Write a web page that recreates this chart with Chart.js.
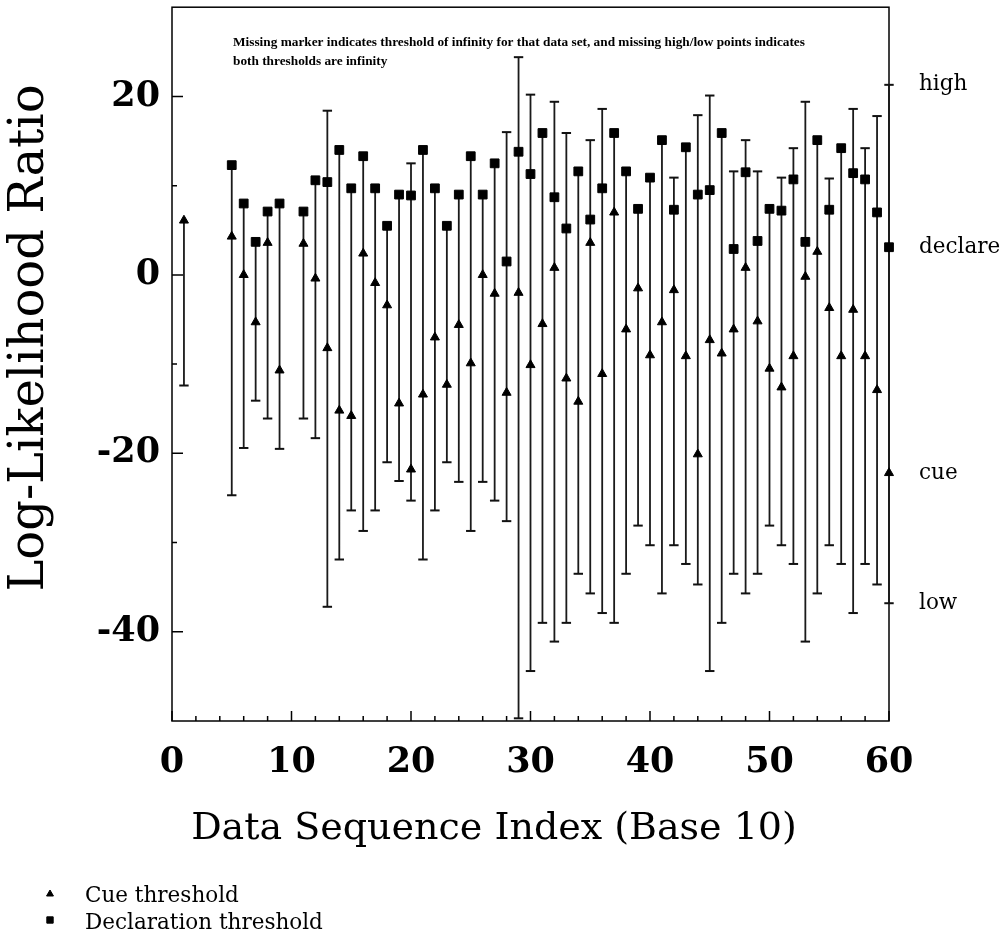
<!DOCTYPE html>
<html>
<head>
<meta charset="utf-8">
<script src="https://cdn.jsdelivr.net/npm/chart.js@4.4.0/dist/chart.umd.min.js"></script>
<style>
  html, body { margin: 0; padding: 0; background: #fff; }
</style>
</head>
<body>
<canvas id="chart" width="1002" height="944"></canvas>
<script>
// data sequences shown (2, 3, 4 and 10 have no thresholds at all)
const seqIndex = [1, 5, 6, 7, 8, 9, 11, 12, 13, 14, 15, 16, 17, 18, 19, 20,
  21, 22, 23, 24, 25, 26, 27, 28, 29, 30, 31, 32, 33, 34, 35, 36, 37, 38, 39, 40,
  41, 42, 43, 44, 45, 46, 47, 48, 49, 50, 51, 52, 53, 54, 55, 56, 57, 58, 59];

const cue = [6.1, 4.3, 0.0, -5.3, 3.6, -10.7, 3.5, -0.4, -8.2, -15.2, -15.8, 2.4, -0.9, -3.4, -14.4, -21.8,
  -13.4, -7.0, -12.3, -5.6, -9.9, 0.0, -2.1, -13.2, -2.0, -10.1, -5.5, 0.8, -11.6, -14.2, 3.6, -11.1, 7.0, -6.1, -1.5, -9.0,
  -5.3, -1.7, -9.1, -20.1, -7.3, -8.8, -6.1, 0.8, -5.2, -10.5, -12.6, -9.1, -0.2, 2.6, -3.7, -9.1, -3.9, -9.1, -12.9];

const declare = [null, 12.3, 8.0, 3.7, 7.1, 8.0, 7.1, 10.6, 10.4, 14.0, 9.7, 13.3, 9.7, 5.5, 9.0, 8.9,
  14.0, 9.7, 5.5, 9.0, 13.3, 9.0, 12.5, 1.5, 13.8, 11.3, 15.9, 8.7, 5.2, 11.6, 6.2, 9.7, 15.9, 11.6, 7.4, 10.9,
  15.1, 7.3, 14.3, 9.0, 9.5, 15.9, 2.9, 11.5, 3.8, 7.4, 7.2, 10.7, 3.7, 15.1, 7.3, 14.2, 11.4, 10.7, 7.0];

const high = [null, null, null, null, null, null, null, null, 18.4, null, null, null, null, null, null, 12.5,
  null, null, null, null, null, null, null, 16.0, 24.4, 20.2, null, 19.4, 15.9, null, 15.1, 18.6, null, null, null, null,
  null, 10.9, null, 17.9, 20.1, null, 11.6, 15.1, 11.6, null, 10.9, 14.2, 19.4, null, 10.8, null, 18.6, 14.2, 17.8];

const low = [-12.4, -24.7, -19.4, -14.1, -16.1, -19.5, -16.1, -18.3, -37.2, -31.9, -26.4, -28.7, -26.4, -21.0, -23.1, -25.3,
  -31.9, -26.4, -21.0, -23.2, -28.7, -23.2, -25.3, -27.6, -49.7, -44.4, -39.0, -41.1, -39.0, -33.5, -35.7, -37.9, -39.0, -33.5, -28.1, -30.3,
  -35.7, -30.3, -32.4, -34.7, -44.4, -39.0, -33.5, -35.7, -33.5, -28.1, -30.3, -32.4, -41.1, -35.7, -30.3, -32.4, -37.9, -32.4, -34.7];

// explanatory key drawn on the right frame
const keyIndex = 60;
const keyLabels = ['high', 'declare', 'cue', 'low'];
const keyValues = [21.3, 3.1, -22.2, -36.8];

const yTickValues = [-40, -20, 0, 20];
const xTickStep = 10;

const SERIF = '"DejaVu Serif", serif';

function pts(xs, ys) {
  const out = [];
  xs.forEach((x, i) => { if (ys[i] !== null) out.push({ x: x, y: ys[i] }); });
  return out;
}

const allX = seqIndex.concat([keyIndex]);
const allHigh = high.concat([keyValues[0]]);
const allDecl = declare.concat([keyValues[1]]);
const allCue = cue.concat([keyValues[2]]);
const allLow = low.concat([keyValues[3]]);

// vertical stems: from low to the top-most value present
const stems = [];
allX.forEach((x, i) => {
  const tops = [allHigh[i], allDecl[i], allCue[i]].filter(v => v !== null);
  stems.push({ x: x, y: allLow[i] }, { x: x, y: Math.max(...tops) }, { x: x, y: null });
});

function noPad(s) {
  s.paddingTop = 0;
  s.paddingBottom = 0;
  s.paddingLeft = 0;
  s.paddingRight = 0;
}

const framePlugin = {
  id: 'frame',
  beforeDatasetsDraw(chart) {
    const { ctx, chartArea: a, scales: { x, y } } = chart;
    ctx.save();
    ctx.strokeStyle = '#000';
    ctx.lineWidth = 1.5;
    ctx.strokeRect(a.left, a.top, a.right - a.left, a.bottom - a.top);
    ctx.beginPath();
    for (let v = 0; v <= 60; v += 2) {
      const px = x.getPixelForValue(v);
      const len = v % 10 === 0 ? 10 : 5;
      ctx.moveTo(px, a.bottom);
      ctx.lineTo(px, a.bottom - len);
    }
    for (let v = -40; v <= 20; v += 10) {
      const py = y.getPixelForValue(v);
      const len = v % 20 === 0 ? 11 : 5;
      ctx.moveTo(a.left, py);
      ctx.lineTo(a.left + len, py);
    }
    ctx.stroke();
    ctx.restore();
  },
  afterDraw(chart) {
    const ctx = chart.ctx;
    ctx.save();
    ctx.fillStyle = '#000';
    // note at the top of the plot
    const line1 = 'Missing marker indicates threshold of infinity for that data set, and missing high/low points indicates';
    const line2 = 'both thresholds are infinity';
    ctx.font = 'bold 11px "Liberation Serif", serif';
    const size = 11 * 572 / ctx.measureText(line1).width;
    ctx.font = 'bold ' + size.toFixed(2) + 'px "Liberation Serif", serif';
    ctx.textBaseline = 'middle';
    ctx.fillText(line1, 233, 43);
    ctx.fillText(line2, 233, 62);

    // axis titles
    ctx.textAlign = 'center';
    ctx.font = '38px ' + SERIF;
    ctx.fillText('Data Sequence Index (Base 10)', 494, 829);
    ctx.save();
    ctx.translate(31, 338);
    ctx.rotate(-Math.PI / 2);
    ctx.font = '48px ' + SERIF;
    ctx.fillText('Log-Likelihood Ratio', 0, 0);
    ctx.restore();

    // legend below the chart
    ctx.textAlign = 'left';
    const drawPoint = Chart.helpers.drawPoint;
    drawPoint(ctx, { pointStyle: 'triangle', radius: 4, rotation: 0, borderWidth: 1 }, 50, 894);
    drawPoint(ctx, { pointStyle: 'rect', radius: 4.5, rotation: 0, borderWidth: 1 }, 50, 920);
    ctx.font = '21.5px ' + SERIF;
    ctx.textBaseline = 'alphabetic';
    ctx.fillText('Cue threshold', 85, 902);
    ctx.fillText('Declaration threshold', 85, 929);
    ctx.restore();
  }
};

new Chart(document.getElementById('chart'), {
  type: 'scatter',
  data: {
    datasets: [
      {
        label: 'Cue threshold',
        data: pts(allX, allCue),
        pointStyle: 'triangle',
        pointRadius: 5.2,
        backgroundColor: '#000',
        borderColor: '#000',
        borderWidth: 1,
        clip: false
      },
      {
        label: 'Declaration threshold',
        data: pts(allX, allDecl),
        pointStyle: 'rect',
        pointRadius: 6.2,
        backgroundColor: '#000',
        borderColor: '#000',
        borderWidth: 1,
        clip: false
      },
      {
        label: 'high',
        data: pts(allX, allHigh),
        pointStyle: 'line',
        pointRadius: 4.7,
        borderColor: '#111',
        borderWidth: 2,
        clip: false
      },
      {
        label: 'low',
        data: pts(allX, allLow),
        pointStyle: 'line',
        pointRadius: 4.7,
        borderColor: '#111',
        borderWidth: 2,
        clip: false
      },
      {
        label: 'range',
        data: stems,
        showLine: true,
        spanGaps: false,
        pointRadius: 0,
        borderColor: '#1a1a1a',
        borderWidth: 1.8,
        clip: false
      }
    ]
  },
  options: {
    responsive: false,
    animation: false,
    devicePixelRatio: 1,
    layout: { padding: { top: 7, right: 0, bottom: 0, left: 0 } },
    plugins: {
      legend: { display: false },
      tooltip: { enabled: false }
    },
    scales: {
      x: {
        type: 'linear',
        min: 0,
        max: 60,
        ticks: {
          stepSize: xTickStep,
          color: '#000',
          padding: 21,
          maxRotation: 0,
          font: { family: SERIF, weight: 'bold', size: 35 }
        },
        grid: { display: false, drawTicks: false },
        border: { display: false },
        afterFit: (s) => { s.height = 223; noPad(s); }
      },
      y: {
        type: 'linear',
        min: -50,
        max: 30,
        afterBuildTicks: (axis) => { axis.ticks = yTickValues.map(v => ({ value: v })); },
        ticks: {
          color: '#000',
          padding: 12,
          font: { family: SERIF, weight: 'bold', size: 35 }
        },
        grid: { display: false, drawTicks: false },
        border: { display: false },
        afterFit: (s) => { s.width = 172; noPad(s); }
      },
      y2: {
        type: 'linear',
        position: 'right',
        min: -50,
        max: 30,
        afterBuildTicks: (axis) => { axis.ticks = keyValues.map(v => ({ value: v })); },
        ticks: {
          color: '#000',
          padding: 30,
          font: { family: SERIF, size: 21.5 },
          callback: (v) => keyLabels[keyValues.indexOf(v)]
        },
        grid: { display: false, drawTicks: false },
        border: { display: false },
        afterFit: (s) => { s.width = 113; noPad(s); }
      }
    }
  },
  plugins: [framePlugin]
});
</script>
</body>
</html>
